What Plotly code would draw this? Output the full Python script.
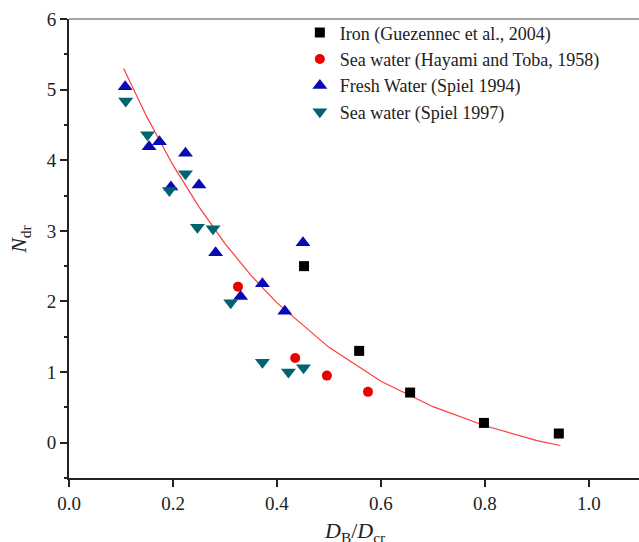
import plotly.graph_objects as go

# Data
iron_x = [0.452, 0.558, 0.656, 0.798, 0.942]
iron_y = [2.50, 1.30, 0.71, 0.28, 0.13]

hay_x = [0.325, 0.435, 0.496, 0.575]
hay_y = [2.21, 1.20, 0.95, 0.72]

fresh_x = [0.108, 0.154, 0.174, 0.196, 0.224, 0.250, 0.282, 0.330, 0.372, 0.415, 0.450]
fresh_y = [5.04, 4.19, 4.26, 3.62, 4.10, 3.65, 2.69, 2.07, 2.25, 1.86, 2.83]

sea97_x = [0.109, 0.151, 0.193, 0.224, 0.247, 0.277, 0.311, 0.372, 0.422, 0.451]
sea97_y = [4.84, 4.36, 3.57, 3.81, 3.05, 3.03, 1.98, 1.14, 1.00, 1.06]

fit_x = [0.105, 0.15, 0.20, 0.25, 0.30, 0.35, 0.40, 0.50, 0.60, 0.70, 0.80, 0.90, 0.945]
fit_y = [5.30, 4.61, 3.93, 3.34, 2.82, 2.37, 1.98, 1.35, 0.87, 0.51, 0.24, 0.03, -0.04]

x_ticks = [0, 0.2, 0.4, 0.6, 0.8, 1.0]
x_ticklabels = ["0.0", "0.2", "0.4", "0.6", "0.8", "1.0"]
y_ticks = [0, 1, 2, 3, 4, 5, 6]
y_minor = [-0.5, 0.5, 1.5, 2.5, 3.5, 4.5, 5.5]

legend_names = [
    "Iron (Guezennec et al., 2004)",
    "Sea water (Hayami and Toba, 1958)",
    "Fresh Water (Spiel 1994)",
    "Sea water (Spiel 1997)",
]

serif = "Liberation Serif, Times New Roman, serif"
yrange = [-0.5, 6]

fig = go.Figure()
fig.add_trace(go.Scatter(x=fit_x, y=fit_y, mode="lines", line=dict(color="#ff3b3b", width=1.2),
                         showlegend=False, hoverinfo="skip"))
fig.add_trace(go.Scatter(x=iron_x, y=iron_y, mode="markers", name=legend_names[0],
                         marker=dict(symbol="square", size=10, color="black")))
fig.add_trace(go.Scatter(x=hay_x, y=hay_y, mode="markers", name=legend_names[1],
                         marker=dict(symbol="circle", size=10, color="#ee0000")))
fig.add_trace(go.Scatter(x=fresh_x, y=fresh_y, mode="markers", name=legend_names[2],
                         marker=dict(symbol="triangle-up", size=13, color="#0a0ab4")))
fig.add_trace(go.Scatter(x=sea97_x, y=sea97_y, mode="markers", name=legend_names[3],
                         marker=dict(symbol="triangle-down", size=13, color="#006470")))
# invisible helper trace so the minor-tick axis is drawn
fig.add_trace(go.Scatter(x=[None], y=[None], yaxis="y2", showlegend=False, hoverinfo="skip"))

fig.update_layout(
    width=639, height=542,
    margin=dict(l=69, r=0, t=19, b=64),
    plot_bgcolor="white", paper_bgcolor="white",
    font=dict(family=serif, size=17, color="#222"),
    legend=dict(x=0.405, y=1.01, xanchor="left", yanchor="top", bgcolor="rgba(0,0,0,0)",
                font=dict(family=serif, size=18, color="#222"), itemwidth=30, tracegroupgap=0),
    xaxis=dict(range=[0, 1.0962], tickmode="array", tickvals=x_ticks, ticktext=x_ticklabels,
               showgrid=False, zeroline=False, showline=True, linecolor="#222", linewidth=2,
               ticks="outside", ticklen=7, tickwidth=2, tickcolor="#222",
               tickfont=dict(family=serif, size=19, color="#222")),
    yaxis=dict(range=yrange, tickmode="array", tickvals=y_ticks,
               showgrid=False, zeroline=False, showline=True, linecolor="#222", linewidth=2,
               ticks="outside", ticklen=7, tickwidth=2, tickcolor="#222",
               tickfont=dict(family=serif, size=19, color="#222")),
    yaxis2=dict(range=yrange, overlaying="y", side="left", anchor="x",
                tickmode="array", tickvals=y_minor, ticktext=[""] * len(y_minor),
                showgrid=False, zeroline=False, showline=False,
                ticks="outside", ticklen=4, tickwidth=1.5, tickcolor="#222"),
    shapes=[dict(type="line", xref="paper", yref="paper", x0=0, x1=1, y0=1, y1=1,
                 line=dict(color="#888", width=1.5))],
    annotations=[
        dict(text="<i>D</i><sub>B</sub>/<i>D</i><sub>cr</sub>", xref="paper", yref="paper",
             x=0.50, y=-0.083, xanchor="center", yanchor="top", showarrow=False,
             font=dict(family=serif, size=22, color="#222")),
        dict(text="<i>N</i><sub>dr</sub>", xref="paper", yref="paper",
             x=-0.085, y=0.52, xanchor="center", yanchor="middle", showarrow=False, textangle=-90,
             font=dict(family=serif, size=22, color="#222")),
    ],
)

fig.write_html("out.html")
